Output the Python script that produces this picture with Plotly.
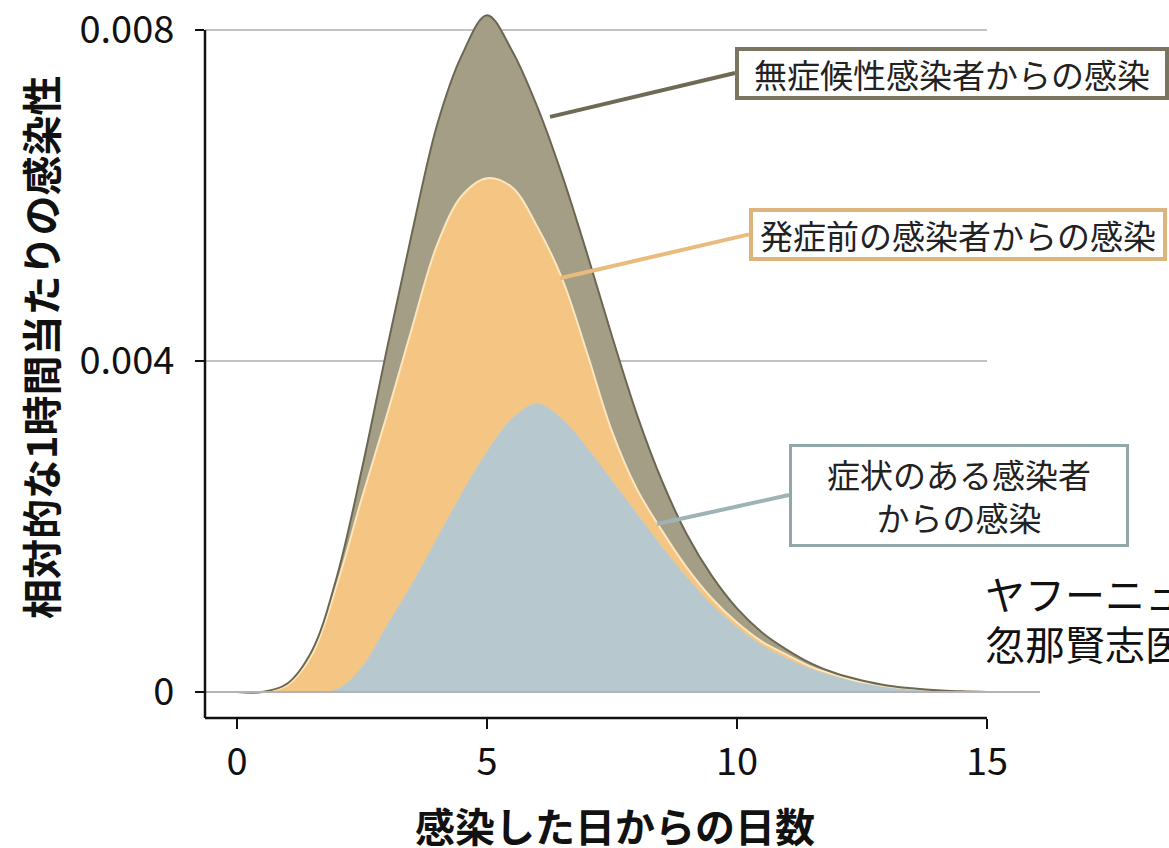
import numpy as np
import plotly.graph_objects as go

# ---------------- data (relative infectiousness, units of 0.001) ----------------
days = [0, 0.5, 1, 1.5, 2, 2.5, 3, 3.5, 4, 4.5, 5, 5.5, 6, 6.5, 7, 7.5,
        8, 8.5, 9, 9.5, 10, 10.5, 11, 11.5, 12, 12.5, 13, 13.5, 14, 14.5, 15]

symptomatic = [0, 0, 0, 0, 0.03, 0.3, 0.8, 1.3, 1.85, 2.4, 2.9, 3.3, 3.48, 3.3, 2.95, 2.55,
               2.15, 1.75, 1.38, 1.05, 0.78, 0.56, 0.4, 0.27, 0.18, 0.11, 0.06, 0.03, 0.015, 0.005, 0]
presymptomatic = [0, 0, 0.08, 0.45, 1.27, 2.05, 2.55, 3.1, 3.55, 3.6, 3.31, 2.8, 2.15, 1.7, 1.15, 0.6,
                  0.3, 0.2, 0.12, 0.08, 0.06, 0.05, 0.05, 0.03, 0.02, 0.01, 0.01, 0.01, 0.005, 0.003, 0]
asymptomatic = [0, 0, 0.02, 0.05, 0.1, 0.35, 0.8, 1.15, 1.45, 1.7, 1.97, 1.65, 1.45, 1.25, 1.2, 1.15,
                0.9, 0.6, 0.4, 0.27, 0.17, 0.11, 0.06, 0.04, 0.02, 0.02, 0.01, 0.005, 0, 0, 0]

UNIT = 0.001
y_ticks = [0, 0.004, 0.008]
y_tick_text = ["0", "0.004", "0.008"]
x_ticks = [0, 5, 10, 15]

labels = ["症状のある感染者<br>からの感染", "発症前の感染者からの感染", "無症候性感染者からの感染"]

FONT = "Noto Sans CJK JP"

c_sym, c_pre, c_asy = "#b7c9cf", "#f5c683", "#a59e86"

fig = go.Figure()
fig.add_trace(go.Scatter(x=days, y=np.array(symptomatic) * UNIT, stackgroup="s",
                         mode="lines", line=dict(color=c_sym, width=1, shape="spline", smoothing=1),
                         fillcolor=c_sym, name=labels[0], hoverinfo="skip"))
fig.add_trace(go.Scatter(x=days, y=np.array(presymptomatic) * UNIT, stackgroup="s",
                         mode="lines", line=dict(color="#fbe6bd", width=2, shape="spline", smoothing=1),
                         fillcolor=c_pre, name=labels[1], hoverinfo="skip"))
fig.add_trace(go.Scatter(x=days, y=np.array(asymptomatic) * UNIT, stackgroup="s",
                         mode="lines", line=dict(color="#6b6753", width=2, shape="spline", smoothing=1),
                         fillcolor=c_asy, name=labels[2], hoverinfo="skip"))

ymin, ymax = -0.000314, 0.008242
xmin, xmax = -0.64, 16.1

shapes = []
for v in y_ticks[1:]:
    shapes.append(dict(type="line", xref="x", yref="y", x0=xmin, x1=15, y0=v, y1=v,
                       line=dict(color="#c2c2c2", width=2), layer="below"))
shapes.append(dict(type="line", xref="x", yref="y", x0=xmin, x1=16.06, y0=0, y1=0,
                   line=dict(color="#b3b3b3", width=2), layer="above"))
# spines
shapes.append(dict(type="line", xref="paper", yref="y", x0=0, x1=0, y0=ymin, y1=0.008,
                   line=dict(color="#111111", width=2.5)))
shapes.append(dict(type="line", xref="x", yref="paper", x0=xmin, x1=15, y0=0, y1=0,
                   line=dict(color="#111111", width=2.5)))
# leader lines
leaders = [
    ((6.26, 0.00695), (9.96, 0.00748), "#6e6a56"),
    ((6.46, 0.00500), (10.24, 0.00553), "#e9bb7c"),
    ((8.40, 0.00203), (11.04, 0.00238), "#9fb2b6"),
]
for (xa, ya), (xb, yb), col in leaders:
    shapes.append(dict(type="line", xref="x", yref="y", x0=xa, y0=ya, x1=xb, y1=yb,
                       line=dict(color=col, width=4), layer="above"))

annotations = [
    dict(xref="x", yref="y", x=9.96, y=0.00748, xanchor="left", yanchor="middle",
         text=labels[2], showarrow=False, bgcolor="white", bordercolor="#7a7561",
         borderwidth=4, borderpad=2, width=422, height=41,
         font=dict(family=FONT, size=33, color="#222")),
    dict(xref="x", yref="y", x=10.24, y=0.00553, xanchor="left", yanchor="middle",
         text=labels[1], showarrow=False, bgcolor="white", bordercolor="#dcb47c",
         borderwidth=4, borderpad=2, width=406, height=41,
         font=dict(family=FONT, size=33, color="#222")),
    dict(xref="x", yref="y", x=11.04, y=0.00238, xanchor="left", yanchor="middle",
         text=labels[0], showarrow=False, bgcolor="white", bordercolor="#93a7aa",
         borderwidth=3, borderpad=2, width=330, height=93,
         font=dict(family=FONT, size=33, color="#222")),
    dict(xref="paper", yref="paper", x=-0.197, y=0.524, xanchor="center", yanchor="middle",
         textangle=-90, text="<b>相対的な1時間当たりの感染性</b>", showarrow=False,
         font=dict(family=FONT, size=40, color="#111")),
    dict(xref="paper", yref="paper", x=0.49, y=-0.151, xanchor="center", yanchor="middle",
         text="<b>感染した日からの日数</b>", showarrow=False,
         font=dict(family=FONT, size=40, color="#111")),
    dict(xref="paper", yref="paper", x=0.9295, y=0.1766, xanchor="left", yanchor="middle",
         text="ヤフーニュース", showarrow=False,
         font=dict(family=FONT, size=40, color="#111")),
    dict(xref="paper", yref="paper", x=0.9295, y=0.106, xanchor="left", yanchor="middle",
         text="忽那賢志医師", showarrow=False,
         font=dict(family=FONT, size=40, color="#111")),
]

fig.update_layout(
    width=1169, height=848,
    margin=dict(l=205, r=127, t=10, b=130, autoexpand=False),
    paper_bgcolor="white", plot_bgcolor="white",
    showlegend=False,
    shapes=shapes, annotations=annotations,
    font=dict(family=FONT),
    xaxis=dict(range=[xmin, xmax], tickvals=x_ticks, ticks="outside", ticklen=10,
               tickwidth=2, tickcolor="#111", showgrid=False, zeroline=False,
               showline=False, ticklabelstandoff=0, ticklabeloverflow="allow",
               tickfont=dict(family=FONT, size=38, color="#111")),
    yaxis=dict(range=[ymin, ymax], tickvals=y_ticks, ticktext=y_tick_text,
               ticks="outside", ticklen=9, tickwidth=2, tickcolor="#111",
               showgrid=False, zeroline=False, showline=False, ticklabelstandoff=13,
               ticklabeloverflow="allow",
               tickfont=dict(family=FONT, size=38, color="#111")),
)

fig.write_html("out.html", config={"displayModeBar": False},
               post_script="document.body.style.margin='0';")
